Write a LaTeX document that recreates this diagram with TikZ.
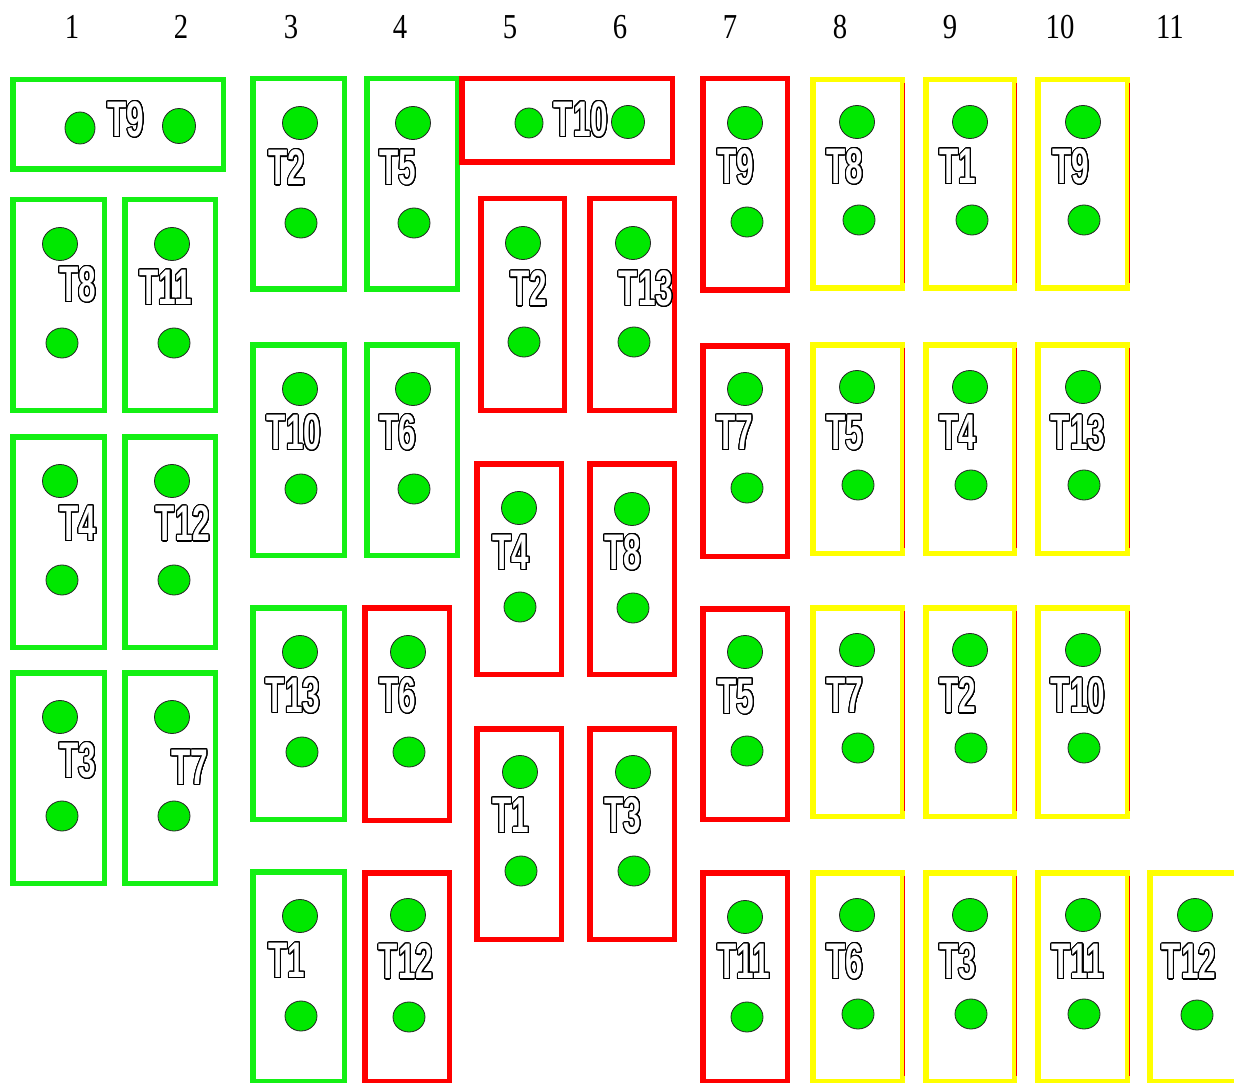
\documentclass[tikz,border=0pt]{standalone}
\usepackage{fontspec}
\usepackage[copies]{contour}
\usetikzlibrary{shapes.geometric}
\newfontfamily\labfont{Liberation Sans}[FakeStretch=0.63]
\newfontfamily\numfont{Liberation Serif}[FakeStretch=0.82]
\contourlength{1.1pt}
\contournumber{28}
\definecolor{boxgreen}{RGB}{20,240,20}
\definecolor{dotgreen}{RGB}{0,232,0}
\definecolor{boxred}{RGB}{255,0,0}
\definecolor{boxyellow}{RGB}{255,255,0}
\tikzset{
  slot/.style={rectangle, line width=5.5pt, fill=white, inner sep=0pt},
  dotbig/.style={ellipse, draw=black!85, line width=0.8pt, fill=dotgreen, minimum width=35pt, minimum height=33pt, inner sep=0pt},
  dotsmall/.style={ellipse, draw=black!85, line width=0.8pt, fill=dotgreen, minimum width=32pt, minimum height=30pt, inner sep=0pt},
  lab/.style={inner sep=0pt, text=white, font={\labfont\bfseries\fontsize{50}{50}\selectfont}},
  num/.style={inner sep=0pt, font={\numfont\fontsize{35}{35}\selectfont}},
  redline/.style={draw=boxred, line width=1.2pt}
}
% #1 name, #2 colour, #3 x1, #4 y1, #5 x2, #6 y2 (outer edges)
\newcommand\slotbox[6]{%
  \node[slot, draw=#2, minimum width={#5-#3-5.5}, minimum height={#6-#4-5.5}] (#1) at ({(#3+#5)/2},{(#4+#6)/2}) {};}
% #1 name, #2 x top, #3 y top, #4 x bottom, #5 y bottom, #6 label, #7 label x, #8 label y
\newcommand\slotcontent[8]{%
  \node[dotbig] (#1-a) at (#2,#3) {};
  \node[dotsmall] (#1-b) at (#4,#5) {};
  \node[lab] (#1-l) at (#7,#8) {\contour{black}{#6}};}
\newcommand\yelbox[5]{% name, x1,y1,x2,y2 with red sliver
  \slotbox{#1}{boxyellow}{#2}{#3}{#4}{#5}
  \coordinate (#1-r1) at (#4-0.5,#3+6);
  \coordinate (#1-r2) at (#4-0.5,#5-8);
  \draw[redline] (#1-r1) -- (#1-r2);}
\begin{document}
\begin{tikzpicture}[x=1pt,y=-1pt]
\useasboundingbox (0,0) rectangle (1234,1083);
\clip (0,0) rectangle (1234,1083);
\fill[white] (0,0) rectangle (1234,1083);
% column numbers
\foreach \i/\x in {1/72,2/181,3/291,4/400,5/510,6/620,7/730,8/840,9/950,10/1060,11/1170}
  \node[num] (n\i) at (\x,27) {\i};
% ---- green group, columns 1-2
\slotbox{g0}{boxgreen}{10}{77}{226}{172}
\node[dotsmall, minimum width=30pt, minimum height=32pt] (g0-a) at (80,128) {};
\node[dotbig, minimum width=33pt, minimum height=35pt] (g0-b) at (179,126) {};
\node[lab] (g0-l) at (126,120) {\contour{black}{T9}};
\slotbox{g11}{boxgreen}{10}{197}{107}{413}
\slotcontent{g11}{60}{244}{62}{343}{T8}{78}{285}
\slotbox{g12}{boxgreen}{122}{197}{218}{413}
\slotcontent{g12}{172}{244}{174}{343}{T11}{166}{288}
\slotbox{g21}{boxgreen}{10}{434}{107}{650}
\slotcontent{g21}{60}{481}{62}{580}{T4}{78}{524}
\slotbox{g22}{boxgreen}{122}{434}{218}{650}
\slotcontent{g22}{172}{481}{174}{580}{T12}{183}{524}
\slotbox{g31}{boxgreen}{10}{670}{107}{886}
\slotcontent{g31}{60}{717}{62}{816}{T3}{78}{761}
\slotbox{g32}{boxgreen}{122}{670}{218}{886}
\slotcontent{g32}{172}{717}{174}{816}{T7}{190}{768}
% ---- column 3 (green)
\slotbox{c31}{boxgreen}{250}{76}{347}{292}
\slotcontent{c31}{300}{123}{301}{223}{T2}{287}{168}
\slotbox{c32}{boxgreen}{250}{342}{347}{558}
\slotcontent{c32}{300}{389}{301}{489}{T10}{294}{433}
\slotbox{c33}{boxgreen}{250}{605}{347}{822}
\slotcontent{c33}{300}{652}{302}{752}{T13}{293}{696}
\slotbox{c34}{boxgreen}{250}{869}{347}{1084}
\slotcontent{c34}{300}{916}{301}{1016}{T1}{287}{961}
% ---- column 4
\slotbox{c41}{boxgreen}{364}{76}{460}{292}
\slotcontent{c41}{413}{123}{414}{223}{T5}{398}{168}
\slotbox{c42}{boxgreen}{364}{342}{460}{558}
\slotcontent{c42}{413}{389}{414}{489}{T6}{398}{433}
\slotbox{c43}{boxred}{362}{605}{452}{823}
\slotcontent{c43}{408}{652}{409}{752}{T6}{398}{696}
\slotbox{c44}{boxred}{362}{870}{452}{1084}
\slotcontent{c44}{408}{915}{409}{1017}{T12}{406}{962}
% ---- red wide T10
\slotbox{r0}{boxred}{459}{76}{675}{165}
\node[dotsmall, minimum width=28pt, minimum height=30pt] (r0-a) at (529,123) {};
\node[dotbig, minimum width=33pt, minimum height=33pt] (r0-b) at (628,122) {};
\node[lab] (r0-l) at (581,120) {\contour{black}{T10}};
% ---- columns 5-6 (red)
\slotbox{c51}{boxred}{478}{196}{567}{413}
\slotcontent{c51}{523}{243}{524}{342}{T2}{529}{289}
\slotbox{c61}{boxred}{587}{196}{677}{413}
\slotcontent{c61}{633}{243}{634}{342}{T13}{646}{289}
\slotbox{c52}{boxred}{474}{461}{564}{677}
\slotcontent{c52}{519}{508}{520}{607}{T4}{511}{553}
\slotbox{c62}{boxred}{587}{461}{677}{677}
\slotcontent{c62}{632}{509}{633}{608}{T8}{623}{553}
\slotbox{c53}{boxred}{474}{726}{564}{942}
\slotcontent{c53}{520}{772}{521}{871}{T1}{511}{816}
\slotbox{c63}{boxred}{587}{726}{677}{942}
\slotcontent{c63}{633}{772}{634}{871}{T3}{623}{816}
% ---- column 7 (red)
\slotbox{c71}{boxred}{700}{76}{790}{293}
\slotcontent{c71}{745}{123}{747}{222}{T9}{736}{167}
\slotbox{c72}{boxred}{700}{343}{790}{559}
\slotcontent{c72}{745}{389}{747}{488}{T7}{735}{433}
\slotbox{c73}{boxred}{700}{606}{790}{822}
\slotcontent{c73}{745}{652}{747}{751}{T5}{736}{697}
\slotbox{c74}{boxred}{700}{870}{790}{1084}
\slotcontent{c74}{745}{917}{747}{1017}{T11}{744}{962}
% ---- columns 8-11 (yellow)
\yelbox{y81}{810}{77}{905}{291}
\slotcontent{y81}{857}{122}{859}{220}{T8}{845}{167}
\yelbox{y91}{923}{77}{1017}{291}
\slotcontent{y91}{970}{122}{972}{220}{T1}{958}{167}
\yelbox{y101}{1035}{77}{1130}{291}
\slotcontent{y101}{1083}{122}{1084}{220}{T9}{1071}{167}
\yelbox{y82}{810}{342}{905}{556}
\slotcontent{y82}{857}{387}{858}{485}{T5}{845}{433}
\yelbox{y92}{923}{342}{1017}{556}
\slotcontent{y92}{970}{387}{971}{485}{T4}{958}{433}
\yelbox{y102}{1035}{342}{1130}{556}
\slotcontent{y102}{1083}{387}{1084}{485}{T13}{1078}{433}
\yelbox{y83}{810}{605}{905}{819}
\slotcontent{y83}{857}{650}{858}{748}{T7}{845}{696}
\yelbox{y93}{923}{605}{1017}{819}
\slotcontent{y93}{970}{650}{971}{748}{T2}{958}{696}
\yelbox{y103}{1035}{605}{1130}{819}
\slotcontent{y103}{1083}{650}{1084}{748}{T10}{1078}{696}
\yelbox{y84}{810}{870}{905}{1084}
\slotcontent{y84}{857}{915}{858}{1014}{T6}{845}{962}
\yelbox{y94}{923}{870}{1017}{1084}
\slotcontent{y94}{970}{915}{971}{1014}{T3}{958}{962}
\yelbox{y104}{1035}{870}{1130}{1084}
\slotcontent{y104}{1083}{915}{1084}{1014}{T11}{1078}{962}
\slotbox{y114}{boxyellow}{1147}{870}{1240}{1084}
\slotcontent{y114}{1195}{915}{1197}{1015}{T12}{1189}{962}
\end{tikzpicture}
\end{document}
